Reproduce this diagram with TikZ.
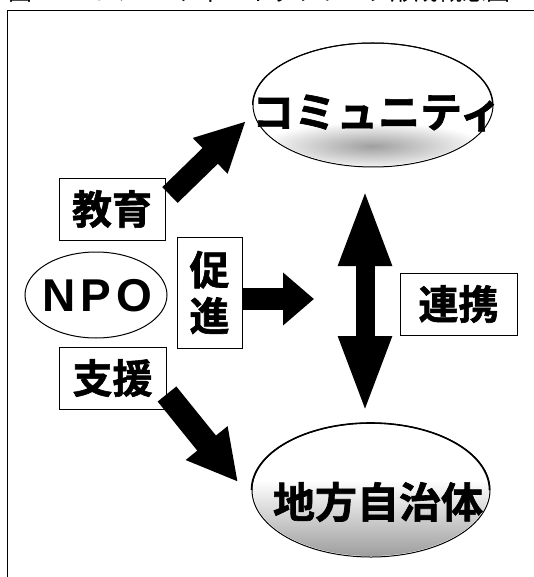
\documentclass[tikz,border=0pt]{standalone}
\usepackage{fontspec}
\setmainfont{Liberation Sans}
\newfontfamily\jp{Noto Sans CJK JP}[BoldFont={* Bold}, BoldFeatures={FakeBold=1.5}]
\usetikzlibrary{arrows.meta,shapes.geometric}
\begin{document}
\begin{tikzpicture}[x=1pt,y=-1pt,
  lbl/.style={draw=black, line width=0.9pt, inner sep=0pt, font=\jp\bfseries\fontsize{40}{42}\selectfont},
  oval/.style={ellipse, draw=black, line width=1pt, inner sep=0pt},
  bigtxt/.style={font=\jp\bfseries\fontsize{42}{44}\selectfont},
  fat/.style={line width=#1, line cap=butt}]
\useasboundingbox (0,0) rectangle (534,577);
\begin{scope}
\clip (0,0) rectangle (534,577);
% title (cut off at the top, as in the reference)
\node[anchor=base west, inner sep=0pt, font=\jp\fontsize{24}{24}\selectfont] (title) at (8,0.5) {図２　コミュニティ・ネットワーク形成概念図};
% frame
\draw[line width=1pt] (7,600) -- (7,11) -- (560,11);
\end{scope}

% Community ellipse
\node[oval, minimum width=240, minimum height=124] (comm) at (373,105) {};
\begin{scope}
  \clip (373,105) ellipse [x radius=119, y radius=61];
  \shade[inner color=gray!75, outer color=white] (372,146) ellipse [x radius=115, y radius=24];
\end{scope}
\draw[line width=1pt] (comm.west) arc[start angle=180, end angle=360, x radius=120, y radius=62];
\node[bigtxt, anchor=west, inner sep=0pt] (commt) at (252,113) {コミュニティ};

% Local government ellipse
\node[oval, minimum width=238, minimum height=134] (gov) at (371,490) {};
\begin{scope}
  \clip (371,490) ellipse [x radius=118, y radius=66];
  \shade[top color=white, bottom color=gray!80] (250,480) rectangle (492,560);
\end{scope}
\draw[line width=1.6pt] (gov.west) arc[start angle=180, end angle=360, x radius=119, y radius=67];
\node[bigtxt, inner sep=0pt] (govt) at (378,502) {地方自治体};

% NPO ellipse
\node[oval, minimum width=142, minimum height=86] (npo) at (96,295) {};
\node[inner sep=0pt, font=\bfseries\fontsize{46}{48}\selectfont] (npot) at (97,296) {N\kern5pt P\kern5pt O};

% label boxes
\node[lbl, minimum width=106, minimum height=62] (edu) at (112,209) {教育};
\node[lbl, minimum width=65, minimum height=111, align=center, font=\jp\bfseries\fontsize{40}{46}\selectfont] (promo) at (209.5,292.5) {促\\進};
\node[lbl, minimum width=107, minimum height=62] (sup) at (112.5,378) {支援};
\node[lbl, minimum width=117, minimum height=62] (coop) at (458.5,304) {連携};

% arrows
\coordinate (eduS) at (170,195);
\coordinate (eduE) at (246,121);
\draw[fat=22pt, -{Triangle[length=50pt, width=46pt]}] (eduS) -- (eduE);

\coordinate (proE) at (314,299);
\draw[fat=22pt, -{Triangle[length=31pt, width=51pt]}] (promo.east |- proE) -- (proE);

\coordinate (supS) at (167,394);
\coordinate (supE) at (238,482);
\draw[fat=24pt, -{Triangle[length=50pt, width=50pt]}] (supS) -- (supE);

\coordinate (coopN) at (365,188);
\coordinate (coopS) at (365,414);
\draw[fat=19pt, {Triangle[length=78pt, width=48pt]}-{Triangle[length=78pt, width=48pt]}] (coopN) -- (coopS);
\end{tikzpicture}
\end{document}
